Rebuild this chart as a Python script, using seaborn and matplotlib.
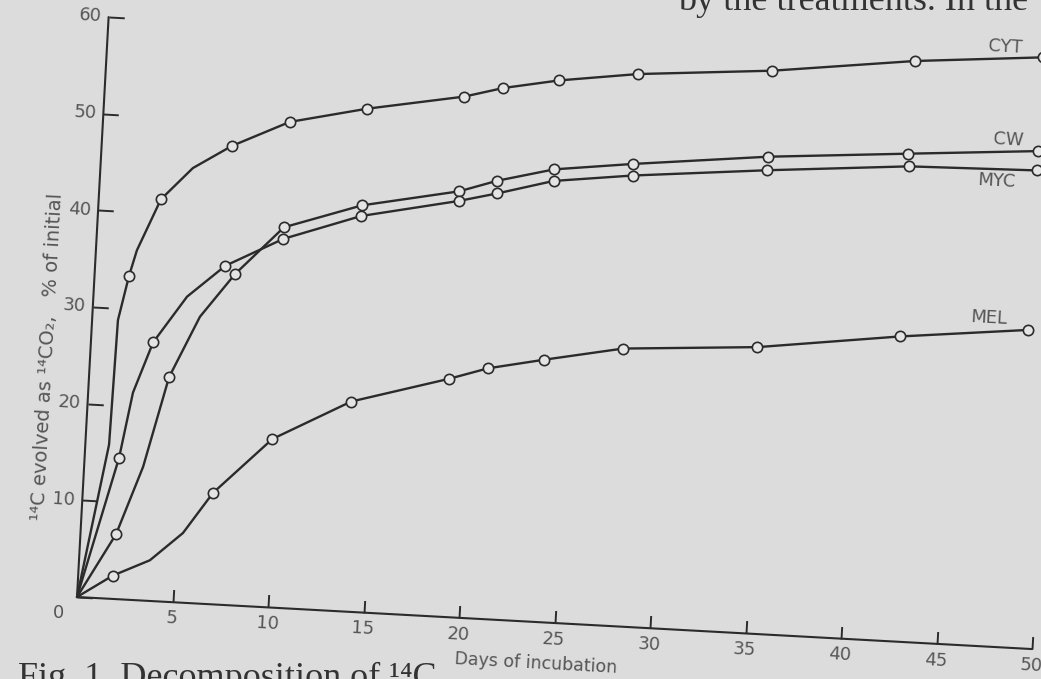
import pandas as pd
import seaborn as sns
import matplotlib.pyplot as plt
from matplotlib.transforms import Affine2D
import mpl_toolkits.axisartist.floating_axes as floating_axes
from mpl_toolkits.axisartist.grid_finder import FixedLocator, DictFormatter

# sampling days, read off the figure (CW was sampled a little later early on,
# MEL has no point at ~3 days)
days = [1.8, 3.25, 6.8, 9.75, 13.75, 18.8, 20.8, 23.7, 27.8, 34.8, 42.2, 48.9]
days_cw = [1.86, 4.18, 7.33, 9.75, 13.76, 18.8, 20.75, 23.7, 27.8, 34.8, 42.1, 48.9]
days_mel = [1.8, 6.8, 9.75, 13.75, 18.8, 20.8, 23.7, 27.8, 34.8, 42.2, 48.9]

# 14C evolved as 14CO2, % of initial (open circles)
cyt = [33.4, 41.5, 47.4, 50.2, 52.0, 53.8, 54.9, 56.0, 57.1, 58.2, 60.0, 61.1]
cw = [6.7, 23.2, 34.2, 39.3, 42.0, 44.0, 45.3, 46.8, 47.8, 49.3, 50.4, 51.4]
myc = [14.6, 26.7, 35.0, 38.1, 40.9, 43.0, 44.0, 45.6, 46.6, 47.9, 49.1, 49.4]
mel = [2.4, 11.5, 17.4, 21.7, 24.6, 25.9, 27.1, 28.7, 29.6, 31.5, 32.9]

# extra points (line only, no marker)
cyt_curve_days = [0, 1.24, 1.35, 2.14, 4.83]
cyt_curve = [0, 15.9, 28.8, 36.1, 44.9]
cw_curve_days = [0, 3.08, 5.62]
cw_curve = [0, 13.8, 29.6]
myc_curve_days = [0, 2.34, 4.89]
myc_curve = [0, 21.4, 31.6]
mel_curve_days = [0, 3.7, 5.35]
mel_curve = [0, 4.2, 7.2]

names = ["CYT", "CW", "MYC", "MEL"]
x_ticks = [0, 5, 10, 15, 20, 25, 30, 35, 40, 45, 50]
x_tick_labels = ["", "5", "10", "15", "20", "25", "30", "35", "40", "45", "50"]
y_ticks = [0, 10, 20, 30, 40, 50, 60]
y_tick_labels = ["", "10", "20", "30", "40", "50", "60"]

marks = pd.concat([
    pd.DataFrame({"day": d, "pct": v, "soil": n})
    for n, d, v in zip(names, [days, days_cw, days, days_mel], [cyt, cw, myc, mel])
])
curves = pd.concat([
    marks,
    pd.DataFrame({"day": cyt_curve_days, "pct": cyt_curve, "soil": "CYT"}),
    pd.DataFrame({"day": cw_curve_days, "pct": cw_curve, "soil": "CW"}),
    pd.DataFrame({"day": myc_curve_days, "pct": myc_curve, "soil": "MYC"}),
    pd.DataFrame({"day": mel_curve_days, "pct": mel_curve, "soil": "MEL"}),
]).sort_values(["soil", "day"])

bg = "#dcdcdc"
ink = "#2b2b2b"
grey = "#555555"

sns.set_theme(style="white")
plt.rcParams["font.family"] = ["DejaVu Sans"]
plt.rcParams["axes.edgecolor"] = ink
plt.rcParams["axes.linewidth"] = 1.5
plt.rcParams["xtick.color"] = ink
plt.rcParams["ytick.color"] = ink
plt.rcParams["xtick.major.width"] = 1.4
plt.rcParams["ytick.major.width"] = 1.4

W, H = 1041, 679
fig = plt.figure(figsize=(W / 100, H / 100), dpi=100, facecolor=bg)

# the scanned page is turned about 3 degrees clockwise
tilt = -3.12
tr = Affine2D().scale(19.13, 9.68).rotate_deg(tilt)
helper = floating_axes.GridHelperCurveLinear(
    tr, extremes=(0, 50, 0, 60),
    grid_locator1=FixedLocator(x_ticks),
    grid_locator2=FixedLocator(y_ticks),
    tick_formatter1=DictFormatter(dict(zip(x_ticks, x_tick_labels))),
    tick_formatter2=DictFormatter(dict(zip(y_ticks, y_tick_labels))),
)

origin_px = (77, 82)
corners = tr.transform([[0, 0], [50, 0], [0, 60], [50, 60]])
x0, y0 = corners.min(axis=0)
x1, y1 = corners.max(axis=0)
w, h = (x1 - x0) * 1.02, (y1 - y0) * 1.02
cx = origin_px[0] + (x0 + x1) / 2
cy = origin_px[1] + (y0 + y1) / 2
ax = fig.add_axes([(cx - w / 2) / W, (cy - h / 2) / H, w / W, h / H],
                  axes_class=floating_axes.FloatingAxes, grid_helper=helper)
ax.patch.set_facecolor(bg)
ax.patch.set_edgecolor("none")

ax.axis["top"].set_visible(False)
ax.axis["right"].set_visible(False)
for side in ["bottom", "left"]:
    a = ax.axis[side]
    a.line.set_color(ink)
    a.line.set_linewidth(1.5)
    a.major_ticks.set_tick_out(False)
    a.major_ticklabels.set_color(grey)
    a.major_ticklabels.set_fontsize(13)
ax.axis["bottom"].major_ticks.set_ticksize(9)
ax.axis["left"].major_ticks.set_ticksize(11)
ax.axis["bottom"].major_ticklabels.set_pad(6)
ax.axis["left"].major_ticklabels.set_pad(5)

aux = ax.get_aux_axes(tr)

sns.lineplot(data=curves, x="day", y="pct", hue="soil", units="soil",
             palette={n: ink for n in names}, estimator=None, sort=True,
             legend=False, linewidth=1.7, ax=aux, clip_on=False, zorder=2)
sns.scatterplot(data=marks, x="day", y="pct", color="#e4e4e4",
                edgecolor=ink, linewidth=1.2, s=55, legend=False,
                ax=aux, clip_on=False, zorder=3)

label_pos = {"CYT": (46.9, 62.0), "CW": (47.3, 52.4),
             "MYC": (46.8, 48.1), "MEL": (46.8, 33.9)}
for n in names:
    aux.text(*label_pos[n], n, ha="center", va="center", color=grey,
             fontsize=13, rotation=tilt, clip_on=False)

aux.annotate("0", xy=(0, 0), xytext=(-13, -11.5), textcoords="offset points",
             ha="center", va="center", color=grey, fontsize=13)

fig.text(47 / W, 1 - 357 / H, "¹⁴C evolved as ¹⁴CO₂,   % of initial",
         rotation=90 + tilt, ha="center", va="center", color=grey, fontsize=14)
fig.text(536 / W, 1 - 663 / H, "Days of incubation", rotation=tilt,
         ha="center", va="center", color=grey, fontsize=12.5)

# bits of the printed page around the figure
fig.text(1028 / W, 1 - 10 / H, "by the treatments. In the", ha="right",
         va="baseline", family="Liberation Serif", fontsize=26, color="#333333")
fig.text(18 / W, -8 / H, "Fig. 1. Decomposition of ¹⁴C", ha="left",
         va="baseline", family="Liberation Serif", fontsize=26, color="#333333")

fig.savefig("out.png", dpi=100, facecolor=bg)
